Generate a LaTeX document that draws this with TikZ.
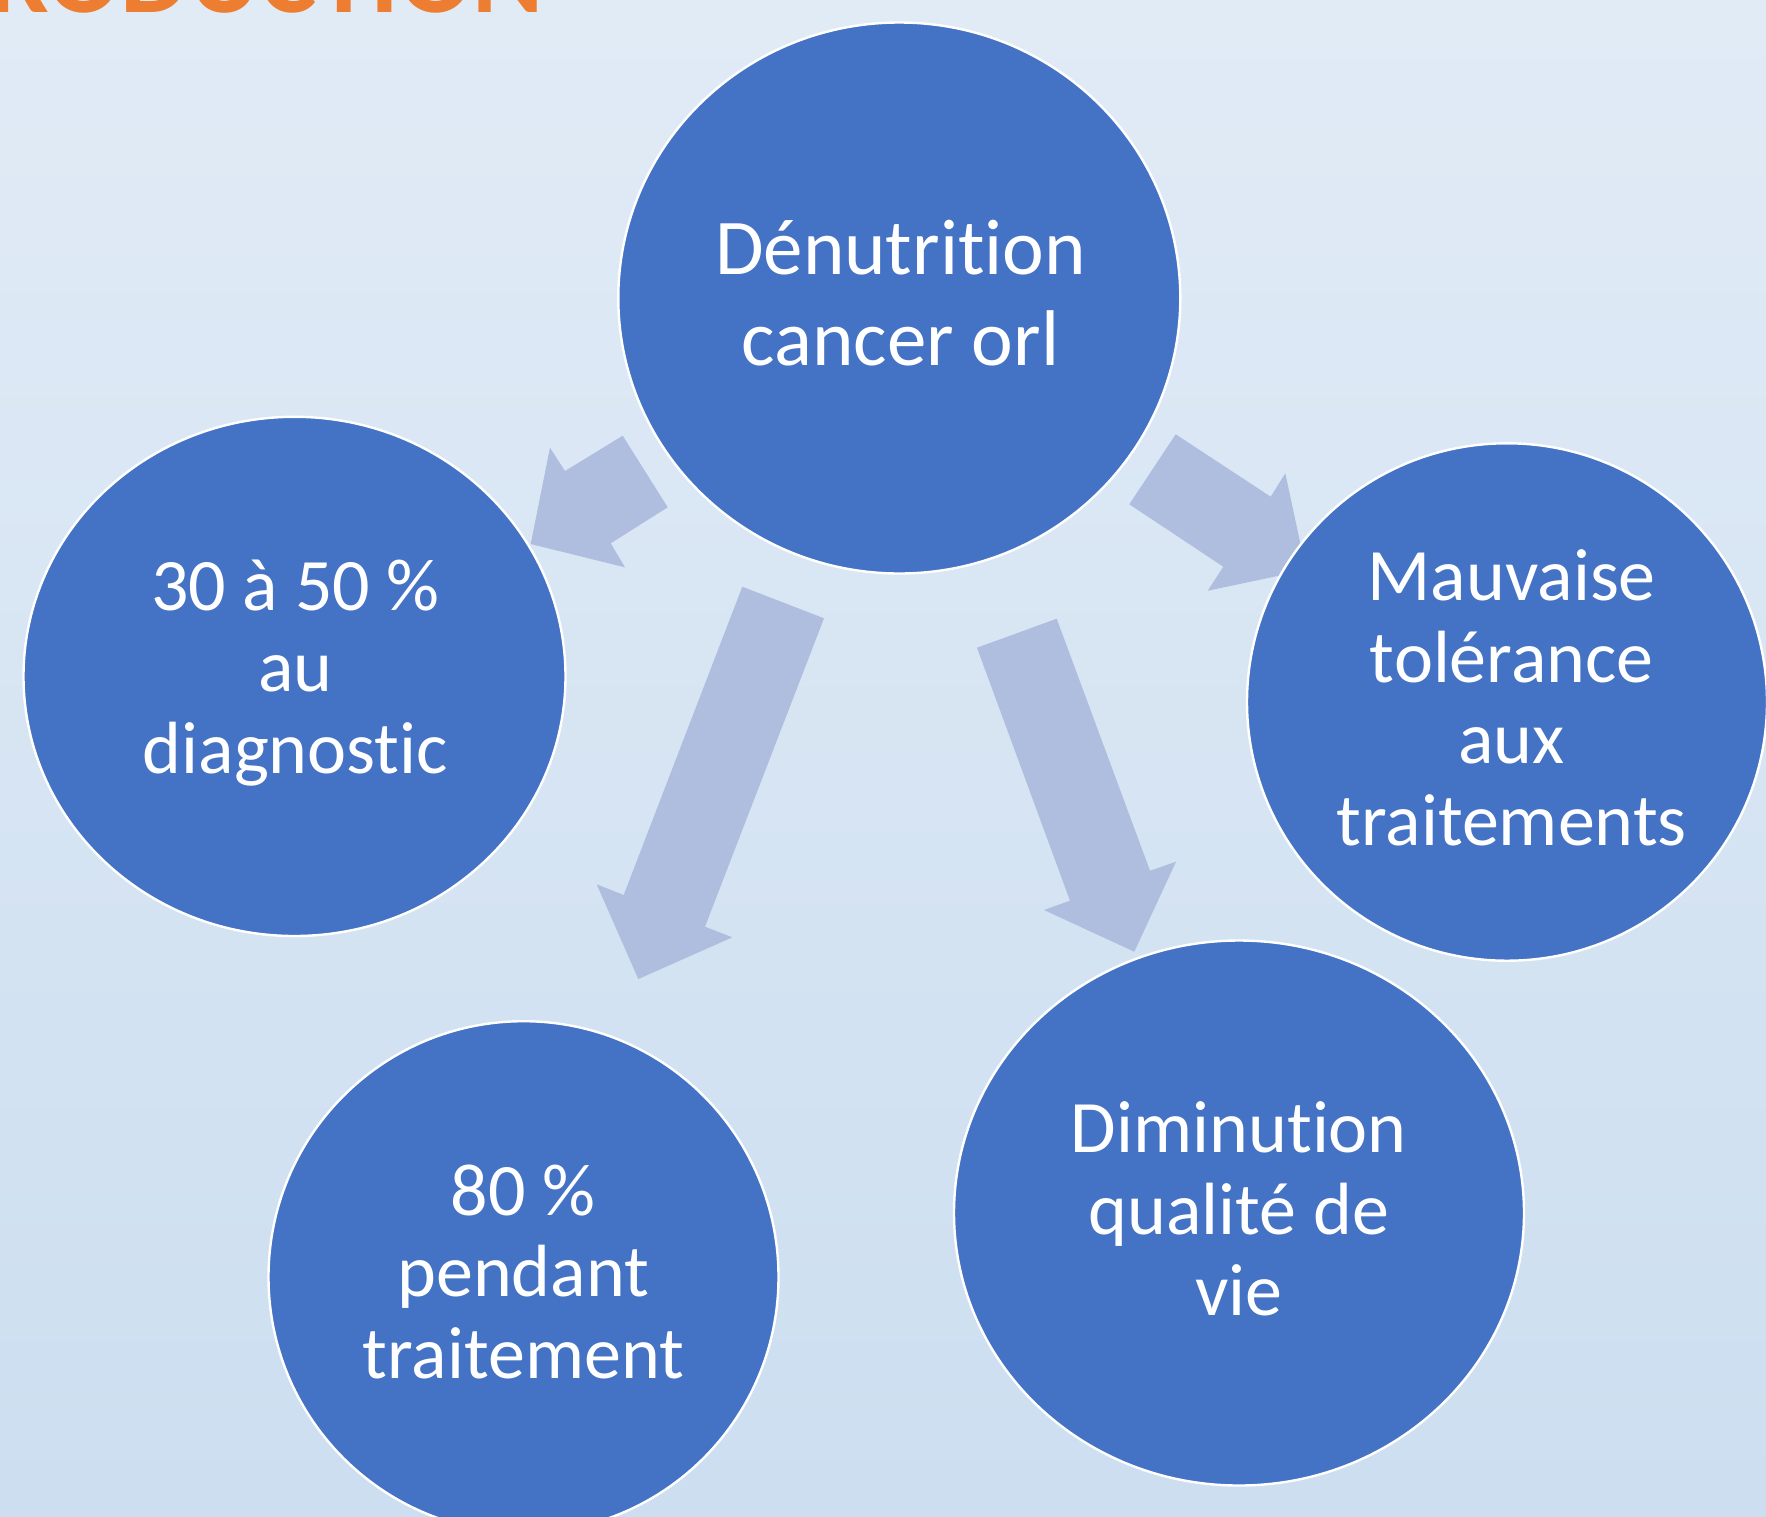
\documentclass[tikz,border=0pt]{standalone}
\usepackage{fontspec}
\setmainfont{Carlito}[Ligatures=CommonOff]
\usetikzlibrary{shapes.geometric}
\definecolor{bgtop}{RGB}{225,235,246}
\definecolor{bgbot}{RGB}{204,222,240}
\definecolor{circfill}{RGB}{68,114,196}
\definecolor{arrfill}{RGB}{175,189,222}
\definecolor{titleorange}{RGB}{237,125,49}
\begin{document}
\begin{tikzpicture}[x=0.5pt,y=-0.5pt,
  bubble/.style={ellipse, fill=circfill, draw=white, line width=1.2pt, inner sep=0pt},
  lbl/.style={text=white, align=center, inner sep=0pt, anchor=base, font=\fontsize{37pt}{40.75pt}\selectfont},
  biglbl/.style={lbl, font=\fontsize{39.5pt}{45.5pt}\selectfont},
  blockarrow/.style={fill=arrfill}]
\useasboundingbox (0,0) rectangle (1766,1516);
\shade[top color=bgtop, bottom color=bgbot] (0,0) rectangle (1766,1516);
\begin{scope}
\clip (0,0) rectangle (1766,1516);
\node[anchor=base east, text=titleorange, inner sep=0pt, font=\bfseries\fontsize{54pt}{60pt}\selectfont] (title) at (544,12.6) {INTRODUCTION};
% block arrows
\fill[blockarrow] (622.7,435.7) -- (565,471) -- (550,447.7) -- (530.7,544) -- (625,567.3) -- (610.7,543.3) -- (667.7,507.3) -- cycle;
\fill[blockarrow] (1175.7,434.3) -- (1270.7,496.7) -- (1285.3,473.3) -- (1306,570) -- (1207.7,590.7) -- (1223.3,566.7) -- (1129.3,504.3) -- cycle;
\fill[blockarrow] (742.3,586.7) -- (824,618.3) -- (705,926.7) -- (732.3,937.3) -- (638.3,979) -- (596.7,884.3) -- (623.7,895) -- cycle;
\fill[blockarrow] (977,647.7) -- (1056.7,618.7) -- (1150,870.7) -- (1176,861.7) -- (1134.3,951.7) -- (1044,910) -- (1070,900.7) -- cycle;
% bubbles
\node[bubble, minimum width=281pt, minimum height=275.5pt] (c) at (899.3,298) {};
\node[bubble, minimum width=271pt, minimum height=259.6pt] (l) at (294.5,676.4) {};
\node[bubble, minimum width=260pt, minimum height=258.7pt] (r) at (1507,702) {};
\node[bubble, minimum width=255pt, minimum height=255.8pt] (bl) at (523.5,1277) {};
\node[bubble, minimum width=285pt, minimum height=272.5pt] (br) at (1239,1213) {};
\end{scope}
% labels (anchored at the baseline of the last line)
\node[biglbl] (tc) at (900.5,365) {Dénutrition\\cancer orl};
\node[lbl] (tl) at (295.5,773) {30 à 50 \%\\au\\diagnostic};
\node[lbl] (tr) at (1511.7,845) {Mauvaise\\tolérance\\aux\\traitements};
\node[lbl] (tbl) at (523.3,1378.3) {80 \%\\pendant\\traitement};
\node[lbl] (tbr) at (1239,1315.5) {Diminution\\qualité de\\vie};
\end{tikzpicture}
\end{document}
